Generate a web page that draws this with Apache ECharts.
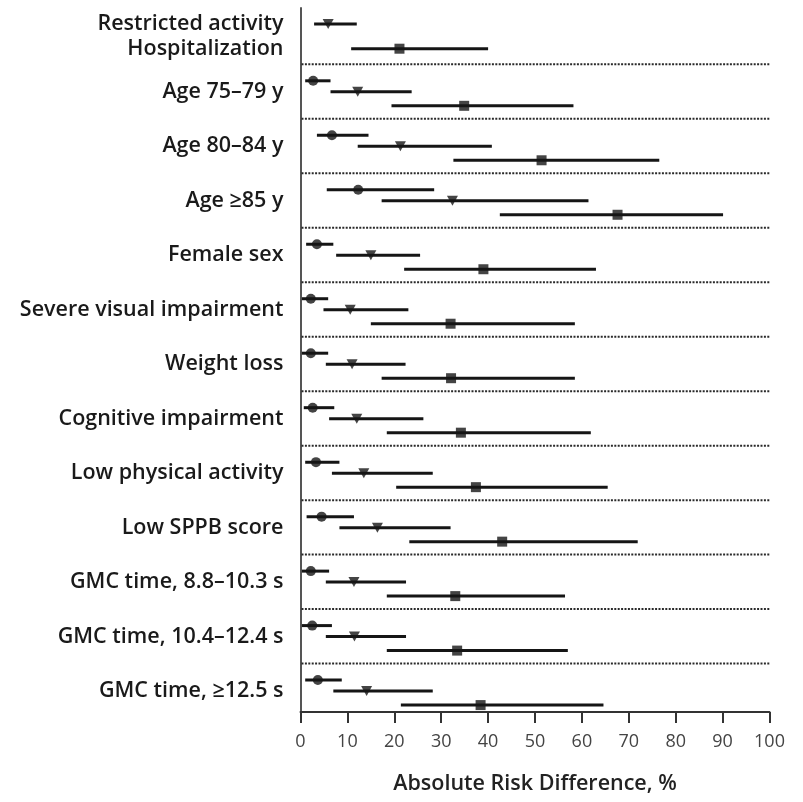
<!DOCTYPE html>
<html>
<head>
<meta charset="utf-8">
<script src="https://cdn.jsdelivr.net/npm/echarts@6/dist/echarts.min.js"></script>
<style>
html,body{margin:0;padding:0;background:#fff;}
#chart{width:803px;height:802px;}
</style>
</head>
<body>
<div id="chart"></div>
<script>
// ---- Data ----
const headerLabels = ['Restricted activity', 'Hospitalization'];
const headerEst = [5.9, 21.1];
const headerLo = [2.9, 10.8];
const headerHi = [12.0, 40.0];

const categories = ['Age 75–79 y', 'Age 80–84 y', 'Age ≥85 y', 'Female sex',
  'Severe visual impairment', 'Weight loss', 'Cognitive impairment',
  'Low physical activity', 'Low SPPB score', 'GMC time, 8.8–10.3 s',
  'GMC time, 10.4–12.4 s', 'GMC time, ≥12.5 s'];

// circle rows
const circleEst = [2.7, 6.7, 12.3, 3.5, 2.2, 2.2, 2.6, 3.3, 4.5, 2.2, 2.5, 3.7];
const circleLo  = [1.0, 3.5, 5.6, 1.2, 0.3, 0.3, 0.7, 1.0, 1.3, 0.3, 0.3, 1.0];
const circleHi  = [6.4, 14.5, 28.5, 7.0, 5.9, 5.9, 7.2, 8.3, 11.4, 6.1, 6.7, 8.8];
// triangle rows (restricted activity)
const triEst = [12.2, 21.3, 32.4, 15.0, 10.6, 11.0, 12.0, 13.5, 16.4, 11.4, 11.5, 14.1];
const triLo  = [6.4, 12.2, 17.3, 7.6, 4.9, 5.4, 6.1, 6.7, 8.3, 5.4, 5.4, 7.0];
const triHi  = [23.7, 40.8, 61.4, 25.5, 23.0, 22.4, 26.2, 28.2, 32.0, 22.5, 22.5, 28.2];
// square rows (hospitalization)
const sqEst = [34.9, 51.4, 67.6, 39.0, 32.0, 32.1, 34.2, 37.4, 43.0, 33.0, 33.4, 38.4];
const sqLo  = [19.4, 32.6, 42.5, 22.1, 15.0, 17.3, 18.4, 20.4, 23.2, 18.4, 18.4, 21.4];
const sqHi  = [58.2, 76.5, 90.1, 63.0, 58.5, 58.5, 61.9, 65.5, 71.9, 56.4, 57.0, 64.6];

const xTicks = [0, 10, 20, 30, 40, 50, 60, 70, 80, 90, 100];

// ---- Layout (vertical positions in grid pixels, not data) ----
const GRID_TOP = 8, GRID_BOTTOM_Y = 712;
const SPAN = GRID_BOTTOM_Y - GRID_TOP;
const FIRST_SEP = 56.3, PITCH = 54.48;
const ROW_OFF = [16.5, 27.5, 41.5];
const HEADER_ROW = [16, 40.7];
const sepY = k => FIRST_SEP + k * PITCH;
const rowY = (g, r) => sepY(g) + ROW_OFF[r];

const INK = '#151515';
const FONT = 'Open Sans';

const ciData = [];
const circPts = [], triPts = [], sqPts = [];
categories.forEach((c, i) => {
  ciData.push([circleLo[i], circleHi[i], rowY(i, 0)]);
  ciData.push([triLo[i], triHi[i], rowY(i, 1)]);
  ciData.push([sqLo[i], sqHi[i], rowY(i, 2)]);
  circPts.push([circleEst[i], rowY(i, 0)]);
  triPts.push([triEst[i], rowY(i, 1)]);
  sqPts.push([sqEst[i], rowY(i, 2)]);
});
ciData.push([headerLo[0], headerHi[0], HEADER_ROW[0]]);
ciData.push([headerLo[1], headerHi[1], HEADER_ROW[1]]);
triPts.push([headerEst[0], HEADER_ROW[0]]);
sqPts.push([headerEst[1], HEADER_ROW[1]]);

const sepData = categories.map((c, i) => [sepY(i)]);
const labelData = [];
headerLabels.forEach((t, i) => labelData.push([HEADER_ROW[i], t]));
categories.forEach((t, i) => labelData.push([rowY(i, 1), t]));

const chart = echarts.init(document.getElementById('chart'), null, {renderer: 'canvas'});
chart.setOption({
  animation: false,
  backgroundColor: '#fff',
  grid: {left: 300.5, right: 33.5, top: GRID_TOP, bottom: 802 - GRID_BOTTOM_Y},
  xAxis: {
    type: 'value', min: 0, max: 100, interval: 10,
    name: 'Absolute Risk Difference, %',
    nameLocation: 'middle', nameGap: 61,
    nameTextStyle: {fontFamily: FONT, fontWeight: 600, fontSize: 21.5, color: '#222'},
    axisLine: {show: true, onZero: false, lineStyle: {color: '#333', width: 2}},
    axisTick: {show: true, length: 11, lineStyle: {color: '#333', width: 2}},
    axisLabel: {fontFamily: FONT, fontSize: 18, color: '#444', margin: 21,
      formatter: v => xTicks.includes(v) ? String(v) : ''},
    splitLine: {show: false}
  },
  yAxis: {
    type: 'value', min: 0, max: SPAN, inverse: true,
    axisLine: {show: true, onZero: false, lineStyle: {color: '#555', width: 2}},
    axisTick: {show: false}, axisLabel: {show: false}, splitLine: {show: false}
  },
  series: [
    {
      type: 'custom', z: 1, silent: true,
      data: sepData,
      encode: {y: 0},
      renderItem: (params, api) => {
        const y = api.value(0);
        const p1 = api.coord([0, y]);
        const p2 = api.coord([100, y]);
        return {type: 'line', shape: {x1: p1[0] + 1, y1: p1[1], x2: p2[0], y2: p2[1]},
          style: {stroke: '#2a2a2a', lineWidth: 2, lineDash: [2, 1.4]}};
      }
    },
    {
      type: 'custom', z: 2, silent: true,
      data: ciData,
      encode: {x: [0, 1], y: 2},
      renderItem: (params, api) => {
        const y = api.value(2);
        const p1 = api.coord([api.value(0), y]);
        const p2 = api.coord([api.value(1), y]);
        return {type: 'line', shape: {x1: p1[0], y1: p1[1], x2: p2[0], y2: p2[1]},
          style: {stroke: INK, lineWidth: 3}};
      }
    },
    {type: 'scatter', z: 3, data: circPts, symbol: 'circle', symbolSize: 10,
      itemStyle: {color: INK}},
    {type: 'scatter', z: 3, data: triPts, symbol: 'triangle', symbolSize: [11, 10], symbolRotate: 180,
      itemStyle: {color: INK}},
    {type: 'scatter', z: 3, data: sqPts, symbol: 'rect', symbolSize: 10,
      itemStyle: {color: INK}},
    {
      type: 'custom', z: 4, silent: true,
      data: labelData.map(d => [d[0]]),
      encode: {y: 0},
      renderItem: (params, api) => {
        const p = api.coord([0, api.value(0)]);
        return {type: 'text', x: p[0] - 17, y: p[1],
          style: {text: labelData[params.dataIndex][1], align: 'right', verticalAlign: 'middle',
            fontFamily: FONT, fontWeight: 600, fontSize: 21.5, fill: '#1a1a1a'}};
      }
    }
  ]
});
</script>
</body>
</html>
